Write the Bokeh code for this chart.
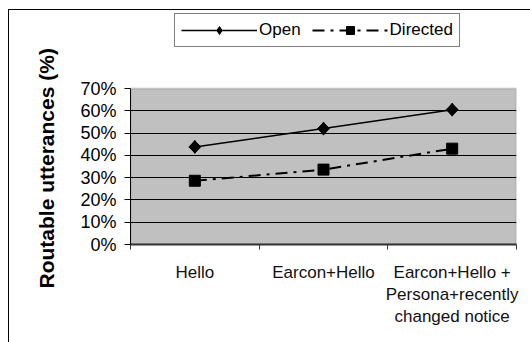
from bokeh.plotting import figure
from bokeh.models import (Range1d, FixedTicker, NumeralTickFormatter, Legend, LegendItem,
                          ColumnDataSource, Title, BoxAnnotation)
from bokeh.embed import file_html
from bokeh.resources import INLINE
import math

categories = ["Hello", "Earcon+Hello", "Earcon+Hello +\nPersona+recently\nchanged notice"]
open_vals = [0.438, 0.520, 0.605]
directed_vals = [0.286, 0.336, 0.430]
y_ticks = [0.0, 0.1, 0.2, 0.3, 0.4, 0.5, 0.6, 0.7]
y_min, y_max = y_ticks[0], y_ticks[-1]

xpos = [i + 0.5 for i in range(len(categories))]
boundaries = [float(i) for i in range(len(categories) + 1)]

# frame spans from just under the outer border (page y=12) down to the 0% line (page y=243);
# the 0%..70% plot area occupies page y 87..243, the space above holds the legend
frame_top_px, area_top_px, area_bottom_px = 12, 87, 243
y_top = y_max * (area_bottom_px - frame_top_px) / (area_bottom_px - area_top_px)

p = figure(width=522, height=333, x_range=Range1d(0, len(categories)), y_range=Range1d(y_min, y_top),
           output_backend="svg", toolbar_location=None, title=None,
           min_border_left=121, min_border_right=15, min_border_top=3, min_border_bottom=99)
p.margin = (9, 0, 0, 8)
p.styles = {"border-top": "1px solid #000", "border-left": "1px solid #000"}

p.background_fill_color = "white"
p.border_fill_color = "white"
p.outline_line_color = None

area = BoxAnnotation(left=0, right=len(categories), bottom=y_min, top=y_max,
                     fill_color="#C0C0C0", fill_alpha=1,
                     line_color="#808080", line_width=2, level="image")
p.add_layout(area)

p.xgrid.visible = False
p.ygrid.grid_line_color = "black"
p.ygrid.grid_line_width = 1
p.ygrid.ticker = FixedTicker(ticks=y_ticks[1:-1])

# y axis
p.yaxis.ticker = FixedTicker(ticks=y_ticks)
p.yaxis.bounds = (y_min, y_max)
p.yaxis.formatter = NumeralTickFormatter(format="0%")
p.yaxis.major_label_text_font = "Liberation Sans"
p.yaxis.major_label_text_font_size = "18px"
p.yaxis.major_label_text_color = "black"
p.yaxis.major_label_standoff = 8
p.yaxis.major_tick_out = 6
p.yaxis.major_tick_in = 0
p.yaxis.minor_tick_out = 0
p.yaxis.minor_tick_in = 0
p.yaxis.axis_line_color = "black"
p.yaxis.major_tick_line_color = "black"

ytitle = Title(text="Routable utterances (%)", align="left", offset=-44, standoff=39,
               text_font="Liberation Sans", text_font_style="bold", text_font_size="21px",
               text_color="black")
p.add_layout(ytitle, "left")

# x axis
p.xaxis.ticker = FixedTicker(ticks=xpos, minor_ticks=boundaries)
p.xaxis.major_label_overrides = {x: c for x, c in zip(xpos, categories)}
p.xaxis.major_tick_out = 0
p.xaxis.major_tick_in = 0
p.xaxis.minor_tick_out = 5
p.xaxis.minor_tick_in = 0
p.xaxis.minor_tick_line_color = "#333333"
p.xaxis.axis_line_color = "#333333"
p.xaxis.axis_line_width = 2
p.xaxis.major_label_text_font = "Liberation Sans"
p.xaxis.major_label_text_font_size = "17px"
p.xaxis.major_label_text_color = "#111111"
p.xaxis.major_label_standoff = 13
p.xaxis.major_label_text_line_height = 1.16

src_o = ColumnDataSource(dict(x=xpos, y=open_vals))
src_d = ColumnDataSource(dict(x=xpos, y=directed_vals))

lo = p.line("x", "y", source=src_o, line_color="black", line_width=1.5)
# diamond used as the legend key; it sits hidden under the rotated squares below
mo_key = p.scatter("x", "y", source=src_o, marker="diamond", size=13,
                   fill_color="black", line_color="black")
mo = p.scatter("x", "y", source=src_o, marker="square", angle=math.pi / 4, size=8.5,
               fill_color="black", line_color="black")
ld = p.line("x", "y", source=src_d, line_color="black", line_width=2, line_dash="12 6 3 6")
md = p.scatter("x", "y", source=src_d, marker="square", size=11,
               fill_color="black", line_color="black")

legend = Legend(items=[LegendItem(label="Open", renderers=[lo, mo_key]),
                       LegendItem(label="Directed", renderers=[ld, md])],
                orientation="horizontal", location=(44, area_bottom_px - 46),
                glyph_width=76, glyph_height=20, label_standoff=2, spacing=11,
                padding=6, margin=0,
                label_text_font="Liberation Sans", label_text_font_size="17px",
                label_text_color="black",
                border_line_color="black", border_line_width=1,
                background_fill_color="white", background_fill_alpha=1)
p.add_layout(legend, "center")

open("out.html", "w").write(file_html(p, INLINE))
